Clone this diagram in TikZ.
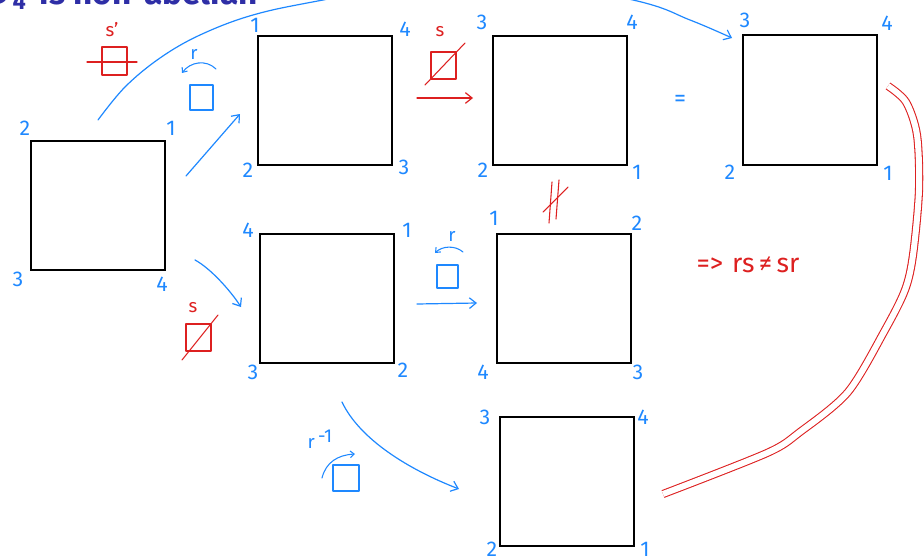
\documentclass[tikz,border=0pt]{standalone}
\usepackage{fontspec}
\setsansfont{Fira Sans}
\usepackage{tikz}
\usetikzlibrary{arrows.meta, positioning, calc}
\definecolor{cPen}  {HTML}{1E88FF}
\definecolor{cInk}  {HTML}{DD2020}
\definecolor{cTitle}{HTML}{2E2EA6}

\begin{document}
\begin{tikzpicture}[x=0.75pt, y=-0.75pt,
  sq/.style={draw=black, line width=1.5pt, minimum width=100.5pt,
    minimum height=96.75pt, inner sep=0pt},
  num/.style={font=\sffamily\fontsize{16}{16}\selectfont, text=cPen, inner sep=0pt},
  pen/.style={draw=#1, line width=0.9pt, line cap=round, line join=round},
  arr/.style={pen=#1, -{Straight Barb[length=5pt,width=8pt]}},
  glyph/.style={pen=#1, line width=0.8pt},
  tinyarr/.style={glyph=#1, -{Straight Barb[length=3pt,width=5pt]}},
  lbl/.style={font=\sffamily\fontsize{14}{14}\selectfont, text=#1, inner sep=0pt},
]
\useasboundingbox (0,0) rectangle (924,560);

%% ── title (cut by the page top) ──────────────────────────────────────
\node[anchor=base east, inner sep=0pt, text=cTitle,
  font=\sffamily\bfseries\fontsize{25}{25}\selectfont] (title) at (258,5)
  {D\textsubscript{\,4}\, is non-abelian};

%% ── squares ─────────────────────────────────────────────────────────
\node[sq] (q0) at (98,205.5) {};
\node[sq] (q1) at (325,100.5) {};
\node[sq] (q2) at (560,100.5) {};
\node[sq] (q3) at (810,100) {};
\node[sq] (q4) at (327,298.5) {};
\node[sq] (q5) at (564,298.5) {};
\node[sq] (q6) at (567,481.5) {};

%% ── corner numbers ──────────────────────────────────────────────────
\node[num] (q0a) at (25,128) {2};
\node[num] (q0b) at (171,128) {1};
\node[num] (q0c) at (18,279) {3};
\node[num] (q0d) at (162,284) {4};

\node[num] (q1a) at (255,25) {1};
\node[num] (q1b) at (405,29) {4};
\node[num] (q1c) at (248,170) {2};
\node[num] (q1d) at (404,167) {3};

\node[num] (q2a) at (482,22) {3};
\node[num] (q2b) at (632,22) {4};
\node[num] (q2c) at (483,170) {2};
\node[num] (q2d) at (637,172) {1};

\node[num] (q3a) at (745,20) {3};
\node[num] (q3b) at (887,23) {4};
\node[num] (q3c) at (730,172) {2};
\node[num] (q3d) at (888,173) {1};

\node[num] (q4a) at (248,230) {4};
\node[num] (q4b) at (407,230) {1};
\node[num] (q4c) at (253,372) {3};
\node[num] (q4d) at (403,370) {2};

\node[num] (q5a) at (494,218) {1};
\node[num] (q5b) at (637,223) {2};
\node[num] (q5c) at (483,372) {4};
\node[num] (q5d) at (638,372) {3};

\node[num] (q6a) at (485,417) {3};
\node[num] (q6b) at (643,417) {4};
\node[num] (q6c) at (492,549) {2};
\node[num] (q6d) at (645,549) {1};

%% ── moves ───────────────────────────────────────────────────────────
% s' : flip on the horizontal axis
\node[lbl=cInk] (sp) at (112,30) {s'};
\draw[glyph=cInk] (102,47) rectangle (127,75);
\draw[glyph=cInk] (87,62) -- (137,62);

% r : rotation, top row
\node[lbl=cPen] (r1) at (194,54) {r};
\draw[tinyarr=cPen] (216,69) .. controls (206,59) and (190,62) .. (182,73);
\draw[glyph=cPen] (190,85) rectangle (213,110);

% s : diagonal flip, top row
\node[lbl=cInk] (s1) at (440,32) {s};
\draw[glyph=cInk] (431,52) rectangle (456,79);
\draw[glyph=cInk] (425,85) -- (465,43);

% s : diagonal flip, left
\node[lbl=cInk] (s2) at (193,308) {s};
\draw[glyph=cInk] (186,324) rectangle (211,351);
\draw[glyph=cInk] (182,360) -- (218,315);

% r : rotation, middle row
\node[lbl=cPen] (r2) at (452,236) {r};
\draw[tinyarr=cPen] (463,252) .. controls (455,245) and (442,246) .. (435,253);
\draw[glyph=cPen] (437,265) rectangle (458,288);

% r^-1 : rotation back
\node[lbl=cPen, anchor=base] (r3) at (320,448) {r\,\raisebox{4pt}{-1}};
\draw[tinyarr=cPen] (322,478) .. controls (326,462) and (338,455) .. (355,454);
\draw[glyph=cPen] (333,465) rectangle (359,491);

%% ── arrows ──────────────────────────────────────────────────────────
\coordinate (a01s) at (186,176);
\coordinate (a01e) at (240,114);
\draw[arr=cPen] (a01s) -- (a01e);

\coordinate (a12s) at (417,98);
\coordinate (a12e) at (473,98);
\draw[arr=cInk] (a12s) -- (a12e);

\coordinate (a04s) at (195,260);
\coordinate (a04e) at (241,307);
\draw[arr=cPen] (a04s) .. controls (210,268) and (230,290) .. (a04e);

\coordinate (a45s) at (417,304);
\coordinate (a45e) at (477,303);
\draw[arr=cPen] (a45s) -- (a45e);

\coordinate (a46s) at (342,402);
\coordinate (a46e) at (459,489);
\draw[arr=cPen] (a46s) .. controls (360,440) and (410,470) .. (a46e);

% s' taken from q0 ends up on q3 (leaves the page at the top)
\coordinate (a03s) at (98,120);
\coordinate (a03e) at (732,38);
\draw[arr=cPen] plot[smooth, tension=0.6] coordinates {(a03s) (125,87)
  (160,58) (200,35) (253,15) (323,0) (480,-28) (633,0) (690,20) (a03e)};

%% ── comparison ──────────────────────────────────────────────────────
\node[lbl=cPen, font=\sffamily\fontsize{18}{18}\selectfont] (eq) at (680,101) {=};

% not equal mark between q2 and q5
\draw[glyph=cInk] (552,182) -- (549,223);
\draw[glyph=cInk] (559,180) -- (556,219);
\draw[glyph=cInk] (543,212) -- (568,187);

\node[lbl=cInk, font=\sffamily\fontsize{20}{20}\selectfont] (concl) at (748,265)
  {=>\,\,rs\,≠\,sr};

% q3 and q6 coincide
\coordinate (dbs) at (888,86);
\coordinate (dbe) at (663,494);
\draw[cInk, line width=0.8pt, double=white, double distance=4.5pt]
  plot[smooth] coordinates {(dbs) (906,102) (917,135) (919,190) (913,255)
  (905,290) (885,330) (848,392) (800,432) (767,453) (dbe)};

\end{tikzpicture}
\end{document}
